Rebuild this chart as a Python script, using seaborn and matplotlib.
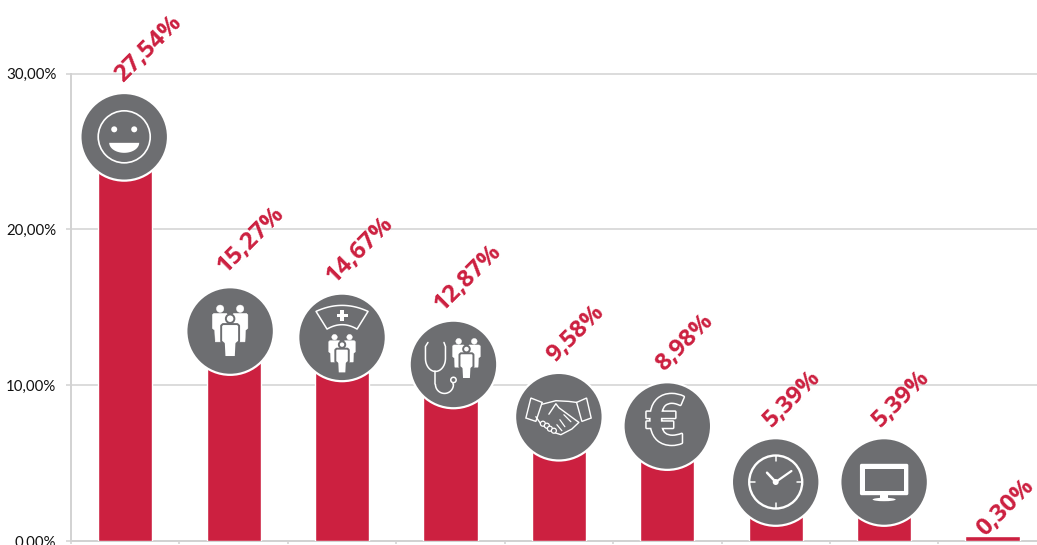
import numpy as np
import pandas as pd
import matplotlib
matplotlib.use('Agg')
import matplotlib.pyplot as plt
import seaborn as sns
from matplotlib.lines import Line2D
from matplotlib.patches import Circle, Ellipse, FancyBboxPatch, Polygon, Rectangle
from matplotlib.transforms import Affine2D
from matplotlib import patheffects

# values
categories = ['satisfaction', 'team', 'nurses', 'doctors', 'cooperation', 'pay', 'hours', 'equipment', 'other']
values = [27.54, 15.27, 14.67, 12.87, 9.58, 8.98, 5.39, 5.39, 0.30]
value_labels = ['27,54%', '15,27%', '14,67%', '12,87%', '9,58%', '8,98%', '5,39%', '5,39%', '0,30%']
y_ticks = [0, 10, 20, 30]
y_tick_labels = ['0,00%', '10,00%', '20,00%', '30,00%']
icons = ['smile', 'team', 'nurse', 'doctor', 'handshake', 'euro', 'clock', 'monitor', None]

RED = '#CC2040'
GREY = '#6D6E71'
AXIS = '#D2D2D2'

sns.set_style('white')
plt.rcParams['font.family'] = ['Lato', 'DejaVu Sans']

df = pd.DataFrame({'category': categories, 'value': values})

fig = plt.figure(figsize=(10.37, 5.45), dpi=100)
ax = fig.add_axes([71 / 1037, 4 / 545, 966 / 1037, 467.5 / 545])
sns.barplot(data=df, x='category', y='value', color=RED, width=0.5, saturation=1, ax=ax, zorder=3)
ax.set_xlabel('')
ax.set_ylabel('')

ax.set_yticks(y_ticks)
ax.set_yticklabels(y_tick_labels, fontsize=10.8, color='#111111')
ax.set_xticks(np.arange(-0.5, 9, 1))
ax.set_xticklabels([])
# the axis runs on past the right edge of the picture
ax.set_xlim(-0.5, 8.41)
ax.set_ylim(0, 30)
ax.tick_params(axis='y', left=True, length=3.6, width=1.1, color=AXIS, pad=7)
ax.tick_params(axis='x', bottom=True, length=2.5, width=1.1, color=AXIS)
ax.grid(axis='y', color=AXIS, linewidth=1.1, clip_on=False, zorder=1)
ax.set_axisbelow(True)
sns.despine(ax=ax, top=True, right=True)
for side in ['left', 'bottom']:
    ax.spines[side].set_color(AXIS)
    ax.spines[side].set_linewidth(1.4)


def add(t, artist):
    artist.set_transform(t)
    artist.set_zorder(6)
    fig.add_artist(artist)


def line(t, xs, ys, lw=1.1):
    add(t, Line2D(xs, ys, color='white', lw=lw, solid_capstyle='round', solid_joinstyle='round'))


def person(t, x, y, s, edge=False):
    # y is the top of the head, s the scale
    body = np.array([(-6.5, -8.6), (6.5, -8.6), (8, -10), (8, -24), (5.6, -26), (5, -38),
                     (-5, -38), (-5.6, -26), (-8, -24), (-8, -10)], dtype=float)
    body = body * s + (x, y)
    ec = GREY if edge else 'white'
    lw = 1.4 if edge else 0.3
    add(t, Polygon(body, closed=True, fc='white', ec=ec, lw=lw, joinstyle='round'))
    add(t, Circle((x, y - 3.8 * s), 3.8 * s, fc='white', ec=ec, lw=lw))


def team(t, x, y, s):
    person(t, x - 10 * s, y, 0.97 * s)
    person(t, x + 10 * s, y, 0.97 * s)
    person(t, x, y - 9.4 * s, 1.12 * s, edge=True)


def draw_smile(t):
    add(t, Circle((0, 0), 26, fc='none', ec='white', lw=1.2))
    add(t, Circle((-10, 7.5), 3, fc='white', ec='none'))
    add(t, Circle((10, 7.5), 3, fc='white', ec='none'))
    a = np.linspace(np.pi, 2 * np.pi, 40)
    add(t, Polygon(np.c_[15 * np.cos(a), -6 + 10 * np.sin(a)], closed=True, fc='white', ec='none'))


def draw_team(t):
    team(t, 0, 26, 1.0)


def draw_nurse(t):
    u = np.linspace(-1, 1, 25)
    top = np.c_[26 * u, 32 - 6 * u ** 2]
    bottom = np.c_[15 * u[::-1], 12.7 - 4.4 * u ** 2]
    add(t, Polygon(np.r_[top, bottom], closed=True, fc='none', ec='white', lw=1.1, joinstyle='round'))
    add(t, Rectangle((-5.5, 20), 11, 3.5, fc='white', ec='none'))
    add(t, Rectangle((-1.75, 16), 3.5, 11.5, fc='white', ec='none'))
    team(t, 0, 3, 0.75)


def draw_doctor(t):
    a = np.linspace(np.pi, 2 * np.pi, 30)
    xs = np.r_[-25.5, -28, -28, -18 + 10 * np.cos(a), -8, -9.5]
    ys = np.r_[22, 18, 6, 6 + 13 * np.sin(a), 18, 22]
    line(t, xs, ys, 1.1)
    line(t, -9 + 9 * np.cos(a), -20 + 9 * np.sin(a), 1.1)
    line(t, [-18, -18], [-7, -20], 1.1)
    line(t, [0, 0], [-20, -17], 1.1)
    add(t, Circle((0, -15.5), 2.7, fc=GREY, ec='white', lw=1.1))
    team(t, 13, 26, 0.78)


def draw_handshake(t):
    add(t, Polygon([(-28, 18.7), (-16.7, 14.3), (-23, -4.7), (-33, -1.3)], closed=True, fc='none', ec='white', lw=1))
    add(t, Polygon([(17.7, 14.3), (27.7, 18.7), (32.3, -1.3), (23, -4.7)], closed=True, fc='none', ec='white', lw=1))
    line(t, [-16.7, -3, 10, 17.7], [12.5, 16, 15.3, 14.3], 1)
    line(t, [-10, -3, 0, 20, 13, 2, -5, -18, -23], [2.5, 13, 9, -5.7, -12.3, -18, -15.7, -7.3, 0], 1)
    line(t, [5, 12], [2, -5], 0.9)
    line(t, [1, 6], [-3, -10], 0.9)
    line(t, [-2, 3], [-8, -14], 0.9)
    for x, y in [(-16, -7), (-12, -9), (-9, -12), (-5, -14)]:
        add(t, Circle((x, y), 2.5, fc=GREY, ec='white', lw=0.9))


def draw_euro(t):
    x, y = t.transform((-3, 0))
    fig.text(x / 1037, y / 545, '€', fontsize=50, family='Open Sans', fontweight='bold', color=GREY,
             ha='center', va='center', zorder=7,
             path_effects=[patheffects.withStroke(linewidth=2.2, foreground='white')])


def draw_clock(t):
    add(t, Circle((0, 0), 26.5, fc='none', ec='white', lw=1.7))
    for c, s in [(0, 1), (1, 0), (0, -1), (-1, 0)]:
        line(t, [21 * c, 26 * c], [21 * s, 26 * s], 1.1)
    line(t, [0, 15.7], [0, 11], 1.6)
    line(t, [0, -8.7], [0, 9.3], 1.8)
    add(t, Circle((0, 0), 3, fc='white', ec='none'))


def draw_monitor(t):
    add(t, FancyBboxPatch((-23.5, -12.5), 47, 30, boxstyle='round,pad=0,rounding_size=1', fc='white', ec='white', lw=1))
    add(t, Rectangle((-19.5, -8.5), 39, 22, fc=GREY, ec='none'))
    add(t, Rectangle((-4, -17), 8, 5, fc='white', ec='none'))
    add(t, Ellipse((0, -17.5), 23, 3.4, fc='white', ec='none'))


drawers = {'smile': draw_smile, 'team': draw_team, 'nurse': draw_nurse, 'doctor': draw_doctor,
           'handshake': draw_handshake, 'euro': draw_euro, 'clock': draw_clock, 'monitor': draw_monitor}
# the discs are not quite centred on their bars
icon_nudge = {'smile': (-1, 0), 'team': (-3.5, -3), 'doctor': (3, 1)}

for i, (v, label, icon) in enumerate(zip(values, value_labels, icons)):
    # rotated value label, starts just left of the bar centre
    if icon == 'smile':
        dx = -7
    elif icon is None or len(label) > 5:
        dx = -12
    else:
        dx = -8
    dy = 33 if icon else 4
    ax.annotate(label, (i, v), xytext=(dx, dy), textcoords='offset pixels', rotation=45,
                rotation_mode='anchor', ha='left', va='center', color=RED, fontsize=17.5,
                family='Open Sans', fontweight='bold', zorder=5, annotation_clip=False)
    if icon is None:
        continue
    # grey disc sits over the top of the bar
    px, py = ax.transData.transform((i, v))
    nx, ny = icon_nudge.get(icon, (0, 0))
    t = Affine2D().translate(px + nx, py - 25 + ny)
    add(t, Circle((0, 0), 43.8, fc=GREY, ec='white', lw=1.6))
    drawers[icon](t)

fig.savefig('out.png', dpi=100)
